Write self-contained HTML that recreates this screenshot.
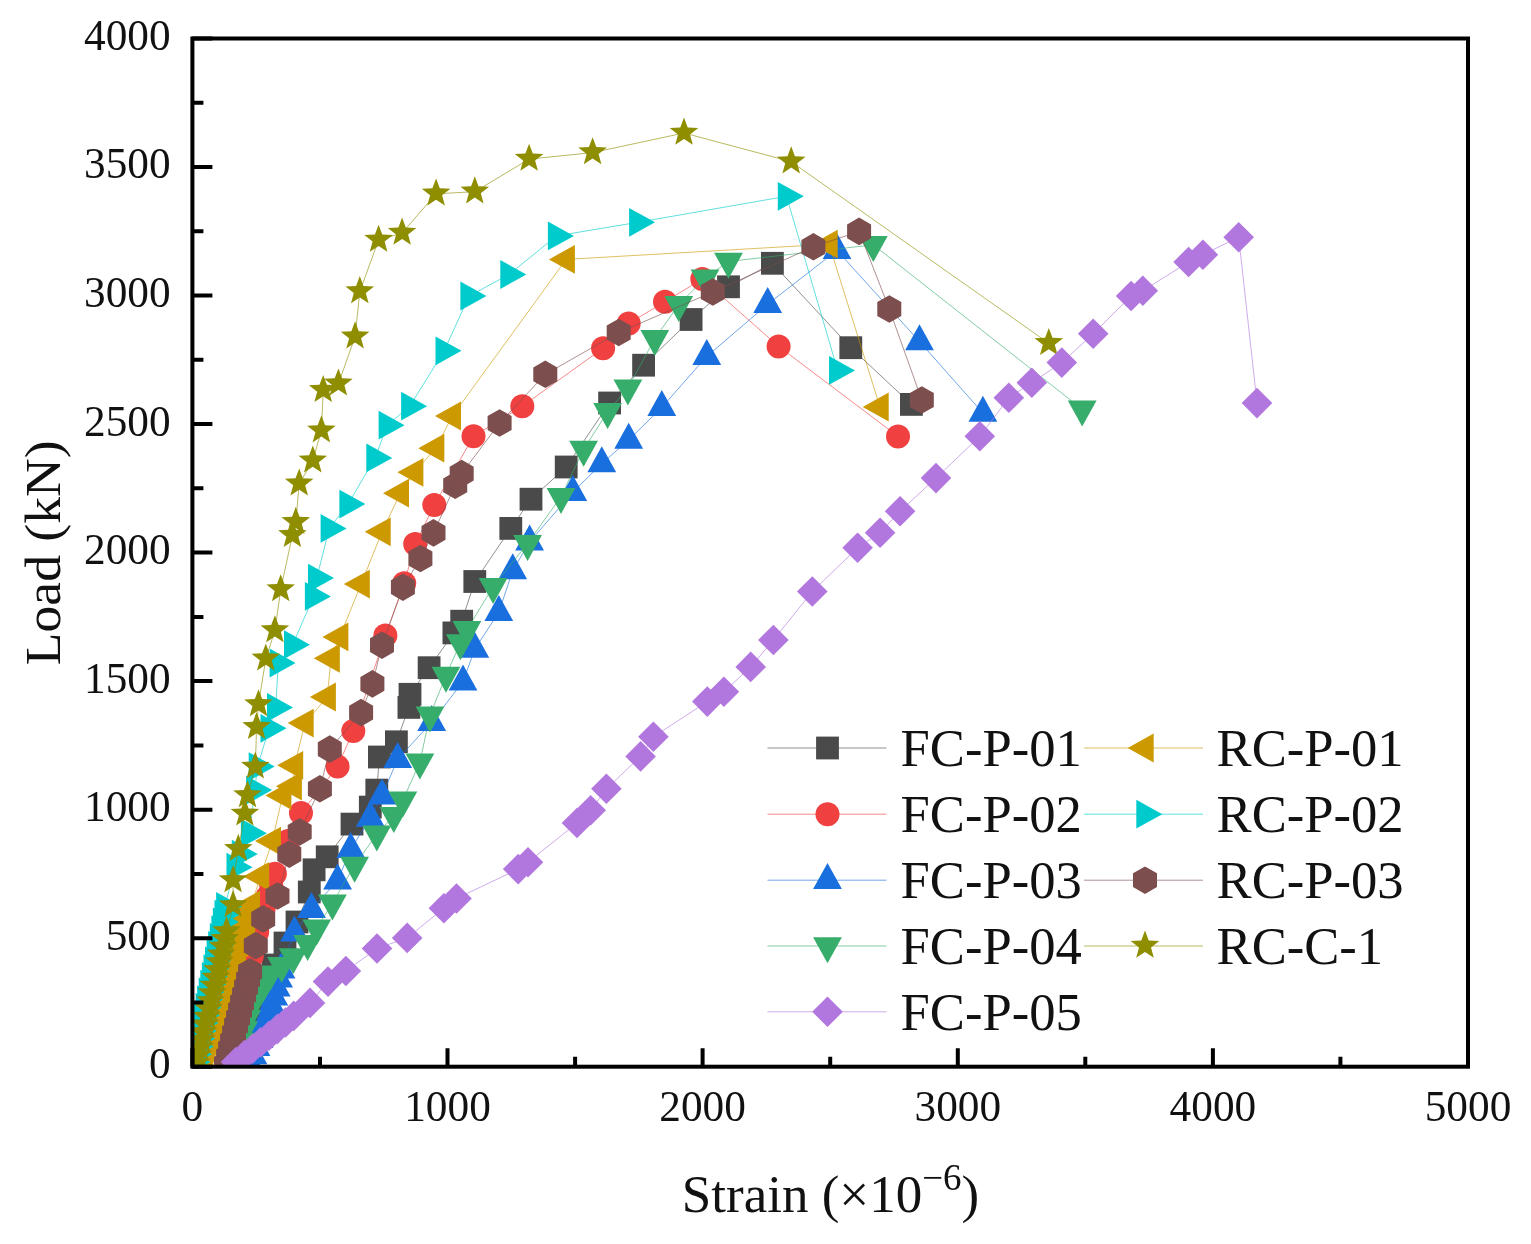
<!DOCTYPE html>
<html lang="en"><head><meta charset="utf-8"><title>Load-Strain curves</title>
<style>html,body{margin:0;padding:0;background:#fff}body{width:1531px;height:1244px;overflow:hidden}svg{display:block}</style>
</head><body>
<svg width="1531" height="1244" viewBox="0 0 1531 1244">
<rect width="1531" height="1244" fill="#fff"/>
<defs><filter id="soft" x="0" y="0" width="100%" height="100%" filterUnits="userSpaceOnUse" color-interpolation-filters="sRGB"><feGaussianBlur stdDeviation="0.55"/></filter></defs>
<g filter="url(#soft)">
<rect width="1531" height="1244" fill="#fff"/>
<defs><clipPath id="pc"><rect x="192.4" y="38.5" width="1275.6" height="1028.2"/></clipPath></defs>
<g clip-path="url(#pc)">
<g>
<polyline fill="none" stroke="#4a4a4a" stroke-opacity="0.62" stroke-width="1.0" points="243.0,1060.0 248.0,1038.0 254.0,1014.0 262.0,989.0 273.0,965.0 285.0,943.0 297.0,922.0 309.3,892.0 314.1,869.8 327.2,856.8 352.0,824.1 370.3,807.1 376.8,790.1 379.4,757.0 396.4,741.8 408.9,707.4 410.0,694.3 429.1,667.7 453.9,632.9 461.7,621.2 474.8,581.5 510.8,528.4 531.0,499.2 566.2,467.0 609.6,403.0 643.6,365.2 691.1,319.5 728.5,286.8 772.4,263.3 850.8,347.7 911.4,404.4"/>
<rect x="231.6" y="1048.6" width="22.8" height="22.8" fill="#4a4a4a"/>
<rect x="236.6" y="1026.6" width="22.8" height="22.8" fill="#4a4a4a"/>
<rect x="242.6" y="1002.6" width="22.8" height="22.8" fill="#4a4a4a"/>
<rect x="250.6" y="977.6" width="22.8" height="22.8" fill="#4a4a4a"/>
<rect x="261.6" y="953.6" width="22.8" height="22.8" fill="#4a4a4a"/>
<rect x="273.6" y="931.6" width="22.8" height="22.8" fill="#4a4a4a"/>
<rect x="285.6" y="910.6" width="22.8" height="22.8" fill="#4a4a4a"/>
<rect x="297.9" y="880.6" width="22.8" height="22.8" fill="#4a4a4a"/>
<rect x="302.7" y="858.4" width="22.8" height="22.8" fill="#4a4a4a"/>
<rect x="315.8" y="845.4" width="22.8" height="22.8" fill="#4a4a4a"/>
<rect x="340.6" y="812.7" width="22.8" height="22.8" fill="#4a4a4a"/>
<rect x="358.9" y="795.7" width="22.8" height="22.8" fill="#4a4a4a"/>
<rect x="365.4" y="778.7" width="22.8" height="22.8" fill="#4a4a4a"/>
<rect x="368.0" y="745.6" width="22.8" height="22.8" fill="#4a4a4a"/>
<rect x="385.0" y="730.4" width="22.8" height="22.8" fill="#4a4a4a"/>
<rect x="397.5" y="696.0" width="22.8" height="22.8" fill="#4a4a4a"/>
<rect x="398.6" y="682.9" width="22.8" height="22.8" fill="#4a4a4a"/>
<rect x="417.7" y="656.3" width="22.8" height="22.8" fill="#4a4a4a"/>
<rect x="442.5" y="621.5" width="22.8" height="22.8" fill="#4a4a4a"/>
<rect x="450.3" y="609.8" width="22.8" height="22.8" fill="#4a4a4a"/>
<rect x="463.4" y="570.1" width="22.8" height="22.8" fill="#4a4a4a"/>
<rect x="499.4" y="517.0" width="22.8" height="22.8" fill="#4a4a4a"/>
<rect x="519.6" y="487.8" width="22.8" height="22.8" fill="#4a4a4a"/>
<rect x="554.8" y="455.6" width="22.8" height="22.8" fill="#4a4a4a"/>
<rect x="598.2" y="391.6" width="22.8" height="22.8" fill="#4a4a4a"/>
<rect x="632.2" y="353.8" width="22.8" height="22.8" fill="#4a4a4a"/>
<rect x="679.7" y="308.1" width="22.8" height="22.8" fill="#4a4a4a"/>
<rect x="717.1" y="275.4" width="22.8" height="22.8" fill="#4a4a4a"/>
<rect x="761.0" y="251.9" width="22.8" height="22.8" fill="#4a4a4a"/>
<rect x="839.4" y="336.3" width="22.8" height="22.8" fill="#4a4a4a"/>
<rect x="900.0" y="393.0" width="22.8" height="22.8" fill="#4a4a4a"/>
</g>
<g>
<polyline fill="none" stroke="#F14040" stroke-opacity="0.62" stroke-width="1.0" points="227.0,1064.0 229.8,1052.0 232.5,1040.0 235.2,1028.0 238.0,1016.0 240.8,1004.0 243.5,992.0 246.2,980.0 249.0,968.0 251.8,956.0 254.5,944.0 257.2,932.0 260.0,920.0 263.7,908.4 267.4,896.9 271.2,885.3 274.9,873.7 288.0,841.0 301.0,812.9 337.6,766.6 353.3,730.9 385.4,635.5 404.2,583.3 415.2,544.1 434.3,504.9 473.5,436.2 522.3,406.2 603.1,348.2 628.7,323.4 665.0,301.7 702.3,279.0 778.6,346.4 898.0,436.4"/>
<circle cx="227.0" cy="1064.0" r="12" fill="#F14040"/>
<circle cx="229.8" cy="1052.0" r="12" fill="#F14040"/>
<circle cx="232.5" cy="1040.0" r="12" fill="#F14040"/>
<circle cx="235.2" cy="1028.0" r="12" fill="#F14040"/>
<circle cx="238.0" cy="1016.0" r="12" fill="#F14040"/>
<circle cx="240.8" cy="1004.0" r="12" fill="#F14040"/>
<circle cx="243.5" cy="992.0" r="12" fill="#F14040"/>
<circle cx="246.2" cy="980.0" r="12" fill="#F14040"/>
<circle cx="249.0" cy="968.0" r="12" fill="#F14040"/>
<circle cx="251.8" cy="956.0" r="12" fill="#F14040"/>
<circle cx="254.5" cy="944.0" r="12" fill="#F14040"/>
<circle cx="257.2" cy="932.0" r="12" fill="#F14040"/>
<circle cx="260.0" cy="920.0" r="12" fill="#F14040"/>
<circle cx="263.7" cy="908.4" r="12" fill="#F14040"/>
<circle cx="267.4" cy="896.9" r="12" fill="#F14040"/>
<circle cx="271.2" cy="885.3" r="12" fill="#F14040"/>
<circle cx="274.9" cy="873.7" r="12" fill="#F14040"/>
<circle cx="288.0" cy="841.0" r="12" fill="#F14040"/>
<circle cx="301.0" cy="812.9" r="12" fill="#F14040"/>
<circle cx="337.6" cy="766.6" r="12" fill="#F14040"/>
<circle cx="353.3" cy="730.9" r="12" fill="#F14040"/>
<circle cx="385.4" cy="635.5" r="12" fill="#F14040"/>
<circle cx="404.2" cy="583.3" r="12" fill="#F14040"/>
<circle cx="415.2" cy="544.1" r="12" fill="#F14040"/>
<circle cx="434.3" cy="504.9" r="12" fill="#F14040"/>
<circle cx="473.5" cy="436.2" r="12" fill="#F14040"/>
<circle cx="522.3" cy="406.2" r="12" fill="#F14040"/>
<circle cx="603.1" cy="348.2" r="12" fill="#F14040"/>
<circle cx="628.7" cy="323.4" r="12" fill="#F14040"/>
<circle cx="665.0" cy="301.7" r="12" fill="#F14040"/>
<circle cx="702.3" cy="279.0" r="12" fill="#F14040"/>
<circle cx="778.6" cy="346.4" r="12" fill="#F14040"/>
<circle cx="898.0" cy="436.4" r="12" fill="#F14040"/>
</g>
<g>
<polyline fill="none" stroke="#1A6FDF" stroke-opacity="0.62" stroke-width="1.0" points="247.0,1071.8 250.0,1063.7 253.0,1055.5 256.0,1047.4 259.0,1039.3 262.0,1031.1 265.0,1023.0 269.0,1014.8 271.4,1005.8 273.8,996.8 276.2,987.8 278.6,978.8 281.0,969.8 294.5,932.9 311.5,909.4 337.6,880.7 350.7,849.3 370.3,818.0 382.0,795.7 397.7,759.2 431.7,722.2 463.0,681.7 474.8,649.0 498.8,612.4 512.7,570.6 529.6,541.9 572.8,492.2 601.8,463.5 628.7,440.0 661.8,407.4 706.8,356.4 767.7,304.2 837.0,250.4 919.5,341.5 982.9,413.0"/>
<polygon points="247.0,1054.5 261.4,1080.5 232.6,1080.5" fill="#1A6FDF"/>
<polygon points="250.0,1046.4 264.4,1072.4 235.6,1072.4" fill="#1A6FDF"/>
<polygon points="253.0,1038.2 267.4,1064.2 238.6,1064.2" fill="#1A6FDF"/>
<polygon points="256.0,1030.1 270.4,1056.1 241.6,1056.1" fill="#1A6FDF"/>
<polygon points="259.0,1021.9 273.4,1047.9 244.6,1047.9" fill="#1A6FDF"/>
<polygon points="262.0,1013.8 276.4,1039.8 247.6,1039.8" fill="#1A6FDF"/>
<polygon points="265.0,1005.6 279.4,1031.6 250.6,1031.6" fill="#1A6FDF"/>
<polygon points="269.0,997.5 283.4,1023.5 254.6,1023.5" fill="#1A6FDF"/>
<polygon points="271.4,988.5 285.8,1014.5 257.0,1014.5" fill="#1A6FDF"/>
<polygon points="273.8,979.5 288.2,1005.5 259.4,1005.5" fill="#1A6FDF"/>
<polygon points="276.2,970.5 290.6,996.5 261.8,996.5" fill="#1A6FDF"/>
<polygon points="278.6,961.5 293.0,987.5 264.2,987.5" fill="#1A6FDF"/>
<polygon points="281.0,952.5 295.4,978.5 266.6,978.5" fill="#1A6FDF"/>
<polygon points="294.5,915.6 308.9,941.6 280.1,941.6" fill="#1A6FDF"/>
<polygon points="311.5,892.1 325.9,918.1 297.1,918.1" fill="#1A6FDF"/>
<polygon points="337.6,863.4 352.0,889.4 323.2,889.4" fill="#1A6FDF"/>
<polygon points="350.7,832.0 365.1,858.0 336.3,858.0" fill="#1A6FDF"/>
<polygon points="370.3,800.7 384.7,826.7 355.9,826.7" fill="#1A6FDF"/>
<polygon points="382.0,778.4 396.4,804.4 367.6,804.4" fill="#1A6FDF"/>
<polygon points="397.7,741.9 412.1,767.9 383.3,767.9" fill="#1A6FDF"/>
<polygon points="431.7,704.9 446.1,730.9 417.3,730.9" fill="#1A6FDF"/>
<polygon points="463.0,664.4 477.4,690.4 448.6,690.4" fill="#1A6FDF"/>
<polygon points="474.8,631.7 489.2,657.7 460.4,657.7" fill="#1A6FDF"/>
<polygon points="498.8,595.1 513.2,621.1 484.4,621.1" fill="#1A6FDF"/>
<polygon points="512.7,553.3 527.1,579.3 498.3,579.3" fill="#1A6FDF"/>
<polygon points="529.6,524.6 544.0,550.6 515.2,550.6" fill="#1A6FDF"/>
<polygon points="572.8,474.9 587.2,500.9 558.4,500.9" fill="#1A6FDF"/>
<polygon points="601.8,446.2 616.2,472.2 587.4,472.2" fill="#1A6FDF"/>
<polygon points="628.7,422.7 643.1,448.7 614.3,448.7" fill="#1A6FDF"/>
<polygon points="661.8,390.1 676.2,416.1 647.4,416.1" fill="#1A6FDF"/>
<polygon points="706.8,339.1 721.2,365.1 692.4,365.1" fill="#1A6FDF"/>
<polygon points="767.7,286.9 782.1,312.9 753.3,312.9" fill="#1A6FDF"/>
<polygon points="837.0,233.1 851.4,259.1 822.6,259.1" fill="#1A6FDF"/>
<polygon points="919.5,324.2 933.9,350.2 905.1,350.2" fill="#1A6FDF"/>
<polygon points="982.9,395.7 997.3,421.7 968.5,421.7" fill="#1A6FDF"/>
</g>
<g>
<polyline fill="none" stroke="#37AD6B" stroke-opacity="0.62" stroke-width="1.0" points="234.0,1064.2 237.2,1052.8 240.4,1041.4 243.6,1030.0 246.8,1018.6 250.0,1007.2 256.7,996.2 263.3,985.2 270.0,974.2 281.6,965.5 293.2,956.9 307.6,943.8 316.7,928.1 332.4,903.3 354.6,865.4 376.8,834.1 393.8,815.8 402.9,800.1 419.9,762.2 430.0,715.2 446.0,675.5 460.4,642.9 466.9,629.8 493.1,586.7 527.6,543.6 561.0,496.6 583.6,449.4 607.6,411.8 627.9,388.2 654.8,338.6 678.8,304.6 705.0,278.2 728.5,261.5 873.3,244.8 1082.2,409.2"/>
<polygon points="234.0,1081.5 248.4,1055.5 219.6,1055.5" fill="#37AD6B"/>
<polygon points="237.2,1070.1 251.6,1044.1 222.8,1044.1" fill="#37AD6B"/>
<polygon points="240.4,1058.7 254.8,1032.7 226.0,1032.7" fill="#37AD6B"/>
<polygon points="243.6,1047.3 258.0,1021.3 229.2,1021.3" fill="#37AD6B"/>
<polygon points="246.8,1035.9 261.2,1009.9 232.4,1009.9" fill="#37AD6B"/>
<polygon points="250.0,1024.5 264.4,998.5 235.6,998.5" fill="#37AD6B"/>
<polygon points="256.7,1013.5 271.1,987.5 242.3,987.5" fill="#37AD6B"/>
<polygon points="263.3,1002.5 277.7,976.5 248.9,976.5" fill="#37AD6B"/>
<polygon points="270.0,991.5 284.4,965.5 255.6,965.5" fill="#37AD6B"/>
<polygon points="281.6,982.9 296.0,956.9 267.2,956.9" fill="#37AD6B"/>
<polygon points="293.2,974.2 307.6,948.2 278.8,948.2" fill="#37AD6B"/>
<polygon points="307.6,961.1 322.0,935.1 293.2,935.1" fill="#37AD6B"/>
<polygon points="316.7,945.4 331.1,919.4 302.3,919.4" fill="#37AD6B"/>
<polygon points="332.4,920.6 346.8,894.6 318.0,894.6" fill="#37AD6B"/>
<polygon points="354.6,882.7 369.0,856.7 340.2,856.7" fill="#37AD6B"/>
<polygon points="376.8,851.4 391.2,825.4 362.4,825.4" fill="#37AD6B"/>
<polygon points="393.8,833.1 408.2,807.1 379.4,807.1" fill="#37AD6B"/>
<polygon points="402.9,817.4 417.3,791.4 388.5,791.4" fill="#37AD6B"/>
<polygon points="419.9,779.5 434.3,753.5 405.5,753.5" fill="#37AD6B"/>
<polygon points="430.0,732.5 444.4,706.5 415.6,706.5" fill="#37AD6B"/>
<polygon points="446.0,692.8 460.4,666.8 431.6,666.8" fill="#37AD6B"/>
<polygon points="460.4,660.2 474.8,634.2 446.0,634.2" fill="#37AD6B"/>
<polygon points="466.9,647.1 481.3,621.1 452.5,621.1" fill="#37AD6B"/>
<polygon points="493.1,604.0 507.5,578.0 478.7,578.0" fill="#37AD6B"/>
<polygon points="527.6,560.9 542.0,534.9 513.2,534.9" fill="#37AD6B"/>
<polygon points="561.0,513.9 575.4,487.9 546.6,487.9" fill="#37AD6B"/>
<polygon points="583.6,466.7 598.0,440.7 569.2,440.7" fill="#37AD6B"/>
<polygon points="607.6,429.1 622.0,403.1 593.2,403.1" fill="#37AD6B"/>
<polygon points="627.9,405.5 642.3,379.5 613.5,379.5" fill="#37AD6B"/>
<polygon points="654.8,355.9 669.2,329.9 640.4,329.9" fill="#37AD6B"/>
<polygon points="678.8,321.9 693.2,295.9 664.4,295.9" fill="#37AD6B"/>
<polygon points="705.0,295.5 719.4,269.5 690.6,269.5" fill="#37AD6B"/>
<polygon points="728.5,278.8 742.9,252.8 714.1,252.8" fill="#37AD6B"/>
<polygon points="873.3,262.1 887.7,236.1 858.9,236.1" fill="#37AD6B"/>
<polygon points="1082.2,426.5 1096.6,400.5 1067.8,400.5" fill="#37AD6B"/>
</g>
<g>
<polyline fill="none" stroke="#CC9900" stroke-opacity="0.62" stroke-width="1.0" points="202.3,1064.0 204.7,1056.4 207.0,1048.9 209.3,1041.3 211.7,1033.7 214.0,1026.1 216.3,1018.6 218.7,1011.0 221.0,1003.4 223.3,995.9 225.7,988.3 228.0,980.7 230.3,973.1 232.7,965.6 235.0,958.0 237.3,950.4 239.7,942.9 242.0,935.3 244.3,927.7 246.7,920.1 249.0,912.6 251.3,905.0 260.5,876.4 272.3,841.1 282.7,795.4 293.2,786.2 294.5,765.3 305.0,723.1 327.2,697.0 331.1,658.3 339.7,636.9 361.1,584.1 382.0,531.8 400.3,493.2 414.7,472.3 435.6,448.2 452.3,416.0 566.2,259.4 829.0,244.2 880.0,407.0"/>
<polygon points="185.0,1064.0 211.0,1049.6 211.0,1078.4" fill="#CC9900"/>
<polygon points="187.3,1056.4 213.3,1042.0 213.3,1070.8" fill="#CC9900"/>
<polygon points="189.7,1048.9 215.7,1034.5 215.7,1063.3" fill="#CC9900"/>
<polygon points="192.0,1041.3 218.0,1026.9 218.0,1055.7" fill="#CC9900"/>
<polygon points="194.3,1033.7 220.3,1019.3 220.3,1048.1" fill="#CC9900"/>
<polygon points="196.7,1026.1 222.7,1011.7 222.7,1040.5" fill="#CC9900"/>
<polygon points="199.0,1018.6 225.0,1004.2 225.0,1033.0" fill="#CC9900"/>
<polygon points="201.3,1011.0 227.3,996.6 227.3,1025.4" fill="#CC9900"/>
<polygon points="203.7,1003.4 229.7,989.0 229.7,1017.8" fill="#CC9900"/>
<polygon points="206.0,995.9 232.0,981.5 232.0,1010.3" fill="#CC9900"/>
<polygon points="208.3,988.3 234.3,973.9 234.3,1002.7" fill="#CC9900"/>
<polygon points="210.7,980.7 236.7,966.3 236.7,995.1" fill="#CC9900"/>
<polygon points="213.0,973.1 239.0,958.7 239.0,987.5" fill="#CC9900"/>
<polygon points="215.3,965.6 241.3,951.2 241.3,980.0" fill="#CC9900"/>
<polygon points="217.7,958.0 243.7,943.6 243.7,972.4" fill="#CC9900"/>
<polygon points="220.0,950.4 246.0,936.0 246.0,964.8" fill="#CC9900"/>
<polygon points="222.3,942.9 248.3,928.5 248.3,957.3" fill="#CC9900"/>
<polygon points="224.7,935.3 250.7,920.9 250.7,949.7" fill="#CC9900"/>
<polygon points="227.0,927.7 253.0,913.3 253.0,942.1" fill="#CC9900"/>
<polygon points="229.3,920.1 255.3,905.7 255.3,934.5" fill="#CC9900"/>
<polygon points="231.7,912.6 257.7,898.2 257.7,927.0" fill="#CC9900"/>
<polygon points="234.0,905.0 260.0,890.6 260.0,919.4" fill="#CC9900"/>
<polygon points="243.2,876.4 269.2,862.0 269.2,890.8" fill="#CC9900"/>
<polygon points="255.0,841.1 281.0,826.7 281.0,855.5" fill="#CC9900"/>
<polygon points="265.4,795.4 291.4,781.0 291.4,809.8" fill="#CC9900"/>
<polygon points="275.9,786.2 301.9,771.8 301.9,800.6" fill="#CC9900"/>
<polygon points="277.2,765.3 303.2,750.9 303.2,779.7" fill="#CC9900"/>
<polygon points="287.7,723.1 313.7,708.7 313.7,737.5" fill="#CC9900"/>
<polygon points="309.9,697.0 335.9,682.6 335.9,711.4" fill="#CC9900"/>
<polygon points="313.8,658.3 339.8,643.9 339.8,672.7" fill="#CC9900"/>
<polygon points="322.4,636.9 348.4,622.5 348.4,651.3" fill="#CC9900"/>
<polygon points="343.8,584.1 369.8,569.7 369.8,598.5" fill="#CC9900"/>
<polygon points="364.7,531.8 390.7,517.4 390.7,546.2" fill="#CC9900"/>
<polygon points="383.0,493.2 409.0,478.8 409.0,507.6" fill="#CC9900"/>
<polygon points="397.4,472.3 423.4,457.9 423.4,486.7" fill="#CC9900"/>
<polygon points="418.3,448.2 444.3,433.8 444.3,462.6" fill="#CC9900"/>
<polygon points="435.0,416.0 461.0,401.6 461.0,430.4" fill="#CC9900"/>
<polygon points="548.9,259.4 574.9,245.0 574.9,273.8" fill="#CC9900"/>
<polygon points="811.7,244.2 837.7,229.8 837.7,258.6" fill="#CC9900"/>
<polygon points="862.7,407.0 888.7,392.6 888.7,421.4" fill="#CC9900"/>
</g>
<g>
<polyline fill="none" stroke="#00CBCC" stroke-opacity="0.62" stroke-width="1.0" points="193.2,1062.0 194.7,1054.2 196.3,1046.4 197.9,1038.7 199.5,1030.9 201.1,1023.1 202.6,1015.3 204.2,1007.5 205.8,999.8 207.4,992.0 209.0,984.2 210.5,976.4 212.1,968.6 213.7,960.9 215.3,953.1 216.9,945.3 218.4,937.5 220.0,929.7 221.6,922.0 223.2,914.2 224.8,906.4 235.2,867.2 240.5,854.1 249.6,833.2 254.8,790.1 257.4,766.6 269.2,728.3 275.7,707.4 278.3,663.0 292.7,644.7 313.6,596.4 316.7,578.1 329.3,528.4 348.1,504.1 375.0,457.9 387.3,425.2 409.8,406.2 444.2,350.8 469.1,296.0 509.0,274.5 556.6,235.9 637.8,222.3 786.5,196.3 837.7,370.4"/>
<polygon points="210.5,1062.0 184.5,1047.6 184.5,1076.4" fill="#00CBCC"/>
<polygon points="212.1,1054.2 186.1,1039.8 186.1,1068.6" fill="#00CBCC"/>
<polygon points="213.7,1046.4 187.7,1032.0 187.7,1060.8" fill="#00CBCC"/>
<polygon points="215.2,1038.7 189.2,1024.3 189.2,1053.1" fill="#00CBCC"/>
<polygon points="216.8,1030.9 190.8,1016.5 190.8,1045.3" fill="#00CBCC"/>
<polygon points="218.4,1023.1 192.4,1008.7 192.4,1037.5" fill="#00CBCC"/>
<polygon points="220.0,1015.3 194.0,1000.9 194.0,1029.7" fill="#00CBCC"/>
<polygon points="221.6,1007.5 195.6,993.1 195.6,1021.9" fill="#00CBCC"/>
<polygon points="223.1,999.8 197.1,985.4 197.1,1014.2" fill="#00CBCC"/>
<polygon points="224.7,992.0 198.7,977.6 198.7,1006.4" fill="#00CBCC"/>
<polygon points="226.3,984.2 200.3,969.8 200.3,998.6" fill="#00CBCC"/>
<polygon points="227.9,976.4 201.9,962.0 201.9,990.8" fill="#00CBCC"/>
<polygon points="229.5,968.6 203.5,954.2 203.5,983.0" fill="#00CBCC"/>
<polygon points="231.0,960.9 205.0,946.5 205.0,975.3" fill="#00CBCC"/>
<polygon points="232.6,953.1 206.6,938.7 206.6,967.5" fill="#00CBCC"/>
<polygon points="234.2,945.3 208.2,930.9 208.2,959.7" fill="#00CBCC"/>
<polygon points="235.8,937.5 209.8,923.1 209.8,951.9" fill="#00CBCC"/>
<polygon points="237.4,929.7 211.4,915.3 211.4,944.1" fill="#00CBCC"/>
<polygon points="238.9,922.0 212.9,907.6 212.9,936.4" fill="#00CBCC"/>
<polygon points="240.5,914.2 214.5,899.8 214.5,928.6" fill="#00CBCC"/>
<polygon points="242.1,906.4 216.1,892.0 216.1,920.8" fill="#00CBCC"/>
<polygon points="252.5,867.2 226.5,852.8 226.5,881.6" fill="#00CBCC"/>
<polygon points="257.8,854.1 231.8,839.7 231.8,868.5" fill="#00CBCC"/>
<polygon points="266.9,833.2 240.9,818.8 240.9,847.6" fill="#00CBCC"/>
<polygon points="272.1,790.1 246.1,775.7 246.1,804.5" fill="#00CBCC"/>
<polygon points="274.7,766.6 248.7,752.2 248.7,781.0" fill="#00CBCC"/>
<polygon points="286.5,728.3 260.5,713.9 260.5,742.7" fill="#00CBCC"/>
<polygon points="293.0,707.4 267.0,693.0 267.0,721.8" fill="#00CBCC"/>
<polygon points="295.6,663.0 269.6,648.6 269.6,677.4" fill="#00CBCC"/>
<polygon points="310.0,644.7 284.0,630.3 284.0,659.1" fill="#00CBCC"/>
<polygon points="330.9,596.4 304.9,582.0 304.9,610.8" fill="#00CBCC"/>
<polygon points="334.0,578.1 308.0,563.7 308.0,592.5" fill="#00CBCC"/>
<polygon points="346.6,528.4 320.6,514.0 320.6,542.8" fill="#00CBCC"/>
<polygon points="365.4,504.1 339.4,489.7 339.4,518.5" fill="#00CBCC"/>
<polygon points="392.3,457.9 366.3,443.5 366.3,472.3" fill="#00CBCC"/>
<polygon points="404.6,425.2 378.6,410.8 378.6,439.6" fill="#00CBCC"/>
<polygon points="427.1,406.2 401.1,391.8 401.1,420.6" fill="#00CBCC"/>
<polygon points="461.5,350.8 435.5,336.4 435.5,365.2" fill="#00CBCC"/>
<polygon points="486.4,296.0 460.4,281.6 460.4,310.4" fill="#00CBCC"/>
<polygon points="526.3,274.5 500.3,260.1 500.3,288.9" fill="#00CBCC"/>
<polygon points="573.9,235.9 547.9,221.5 547.9,250.3" fill="#00CBCC"/>
<polygon points="655.1,222.3 629.1,207.9 629.1,236.7" fill="#00CBCC"/>
<polygon points="803.8,196.3 777.8,181.9 777.8,210.7" fill="#00CBCC"/>
<polygon points="855.0,370.4 829.0,356.0 829.0,384.8" fill="#00CBCC"/>
</g>
<g>
<polyline fill="none" stroke="#7D4E4E" stroke-opacity="0.62" stroke-width="1.0" points="226.0,1064.0 228.0,1056.3 230.0,1048.6 232.0,1040.9 234.0,1033.2 236.0,1025.5 238.1,1017.9 240.1,1010.2 242.1,1002.5 244.1,994.8 246.1,987.1 248.1,979.4 250.1,971.7 255.8,945.6 263.2,918.9 277.5,896.0 289.3,854.1 299.7,831.9 319.9,788.8 329.8,749.1 361.1,712.6 372.4,683.9 382.0,645.2 402.9,587.2 420.4,558.5 433.5,532.9 455.2,485.3 461.7,473.6 499.6,423.0 545.3,374.3 618.7,332.5 712.8,292.0 813.4,246.8 859.1,231.4 889.3,309.0 921.8,400.0"/>
<polygon points="226.0,1050.2 238.0,1057.1 238.0,1070.9 226.0,1077.8 214.0,1070.9 214.0,1057.1" fill="#7D4E4E"/>
<polygon points="228.0,1042.5 240.0,1049.4 240.0,1063.2 228.0,1070.1 216.1,1063.2 216.1,1049.4" fill="#7D4E4E"/>
<polygon points="230.0,1034.8 242.0,1041.7 242.0,1055.5 230.0,1062.4 218.1,1055.5 218.1,1041.7" fill="#7D4E4E"/>
<polygon points="232.0,1027.1 244.0,1034.0 244.0,1047.8 232.0,1054.7 220.1,1047.8 220.1,1034.0" fill="#7D4E4E"/>
<polygon points="234.0,1019.4 246.0,1026.3 246.0,1040.1 234.0,1047.0 222.1,1040.1 222.1,1026.3" fill="#7D4E4E"/>
<polygon points="236.0,1011.7 248.0,1018.6 248.0,1032.4 236.0,1039.3 224.1,1032.4 224.1,1018.6" fill="#7D4E4E"/>
<polygon points="238.1,1004.1 250.0,1011.0 250.0,1024.8 238.1,1031.7 226.1,1024.8 226.1,1011.0" fill="#7D4E4E"/>
<polygon points="240.1,996.4 252.0,1003.3 252.0,1017.1 240.1,1024.0 228.1,1017.1 228.1,1003.3" fill="#7D4E4E"/>
<polygon points="242.1,988.7 254.0,995.6 254.0,1009.4 242.1,1016.3 230.1,1009.4 230.1,995.6" fill="#7D4E4E"/>
<polygon points="244.1,981.0 256.0,987.9 256.0,1001.7 244.1,1008.6 232.1,1001.7 232.1,987.9" fill="#7D4E4E"/>
<polygon points="246.1,973.3 258.0,980.2 258.0,994.0 246.1,1000.9 234.1,994.0 234.1,980.2" fill="#7D4E4E"/>
<polygon points="248.1,965.6 260.0,972.5 260.0,986.3 248.1,993.2 236.1,986.3 236.1,972.5" fill="#7D4E4E"/>
<polygon points="250.1,957.9 262.1,964.8 262.1,978.6 250.1,985.5 238.1,978.6 238.1,964.8" fill="#7D4E4E"/>
<polygon points="255.8,931.8 267.8,938.7 267.8,952.5 255.8,959.4 243.8,952.5 243.8,938.7" fill="#7D4E4E"/>
<polygon points="263.2,905.1 275.2,912.0 275.2,925.8 263.2,932.7 251.2,925.8 251.2,912.0" fill="#7D4E4E"/>
<polygon points="277.5,882.2 289.5,889.1 289.5,902.9 277.5,909.8 265.5,902.9 265.5,889.1" fill="#7D4E4E"/>
<polygon points="289.3,840.3 301.3,847.2 301.3,861.0 289.3,867.9 277.3,861.0 277.3,847.2" fill="#7D4E4E"/>
<polygon points="299.7,818.1 311.7,825.0 311.7,838.8 299.7,845.7 287.7,838.8 287.7,825.0" fill="#7D4E4E"/>
<polygon points="319.9,775.0 331.9,781.9 331.9,795.7 319.9,802.6 307.9,795.7 307.9,781.9" fill="#7D4E4E"/>
<polygon points="329.8,735.3 341.8,742.2 341.8,756.0 329.8,762.9 317.8,756.0 317.8,742.2" fill="#7D4E4E"/>
<polygon points="361.1,698.8 373.1,705.7 373.1,719.5 361.1,726.4 349.1,719.5 349.1,705.7" fill="#7D4E4E"/>
<polygon points="372.4,670.1 384.4,677.0 384.4,690.8 372.4,697.7 360.4,690.8 360.4,677.0" fill="#7D4E4E"/>
<polygon points="382.0,631.4 394.0,638.3 394.0,652.1 382.0,659.0 370.0,652.1 370.0,638.3" fill="#7D4E4E"/>
<polygon points="402.9,573.4 414.9,580.3 414.9,594.1 402.9,601.0 390.9,594.1 390.9,580.3" fill="#7D4E4E"/>
<polygon points="420.4,544.7 432.4,551.6 432.4,565.4 420.4,572.3 408.4,565.4 408.4,551.6" fill="#7D4E4E"/>
<polygon points="433.5,519.1 445.5,526.0 445.5,539.8 433.5,546.7 421.5,539.8 421.5,526.0" fill="#7D4E4E"/>
<polygon points="455.2,471.5 467.2,478.4 467.2,492.2 455.2,499.1 443.2,492.2 443.2,478.4" fill="#7D4E4E"/>
<polygon points="461.7,459.8 473.7,466.7 473.7,480.5 461.7,487.4 449.7,480.5 449.7,466.7" fill="#7D4E4E"/>
<polygon points="499.6,409.2 511.6,416.1 511.6,429.9 499.6,436.8 487.6,429.9 487.6,416.1" fill="#7D4E4E"/>
<polygon points="545.3,360.5 557.3,367.4 557.3,381.2 545.3,388.1 533.3,381.2 533.3,367.4" fill="#7D4E4E"/>
<polygon points="618.7,318.7 630.7,325.6 630.7,339.4 618.7,346.3 606.7,339.4 606.7,325.6" fill="#7D4E4E"/>
<polygon points="712.8,278.2 724.8,285.1 724.8,298.9 712.8,305.8 700.8,298.9 700.8,285.1" fill="#7D4E4E"/>
<polygon points="813.4,233.0 825.4,239.9 825.4,253.7 813.4,260.6 801.4,253.7 801.4,239.9" fill="#7D4E4E"/>
<polygon points="859.1,217.6 871.1,224.5 871.1,238.3 859.1,245.2 847.1,238.3 847.1,224.5" fill="#7D4E4E"/>
<polygon points="889.3,295.2 901.3,302.1 901.3,315.9 889.3,322.8 877.3,315.9 877.3,302.1" fill="#7D4E4E"/>
<polygon points="921.8,386.2 933.8,393.1 933.8,406.9 921.8,413.8 909.8,406.9 909.8,393.1" fill="#7D4E4E"/>
</g>
<g>
<polyline fill="none" stroke="#8E8E00" stroke-opacity="0.62" stroke-width="1.0" points="196.0,1063.6 197.8,1055.8 199.6,1048.1 201.4,1040.3 203.2,1032.5 205.0,1024.7 206.8,1017.0 208.6,1009.2 210.4,1001.4 212.2,993.7 214.0,985.9 215.8,978.1 217.6,970.4 219.4,962.6 221.2,954.8 223.0,947.0 224.8,939.3 226.6,931.5 233.1,905.4 233.1,880.6 238.3,849.2 244.9,813.9 247.5,795.6 255.3,766.9 256.6,727.3 258.5,704.6 265.8,658.8 274.9,630.6 280.7,589.6 292.4,535.3 295.8,522.2 299.2,483.8 312.8,460.8 321.4,430.7 323.2,390.3 338.4,383.8 355.1,336.7 359.8,291.5 378.6,240.1 402.1,233.0 436.1,193.8 474.8,191.7 529.1,159.1 592.6,152.6 684.0,133.0 791.2,161.7 1048.8,343.3"/>
<polygon points="196.0,1048.2 199.7,1058.1 210.3,1058.6 202.0,1065.1 204.8,1075.3 196.0,1069.5 187.2,1075.3 190.0,1065.1 181.7,1058.6 192.3,1058.1" fill="#8E8E00"/>
<polygon points="197.8,1040.4 201.5,1050.3 212.1,1050.8 203.8,1057.4 206.6,1067.6 197.8,1061.7 189.0,1067.6 191.8,1057.4 183.5,1050.8 194.1,1050.3" fill="#8E8E00"/>
<polygon points="199.6,1032.7 203.3,1042.6 213.9,1043.0 205.6,1049.6 208.4,1059.8 199.6,1054.0 190.8,1059.8 193.6,1049.6 185.3,1043.0 195.9,1042.6" fill="#8E8E00"/>
<polygon points="201.4,1024.9 205.1,1034.8 215.7,1035.3 207.4,1041.8 210.2,1052.0 201.4,1046.2 192.6,1052.0 195.4,1041.8 187.1,1035.3 197.7,1034.8" fill="#8E8E00"/>
<polygon points="203.2,1017.1 206.9,1027.0 217.5,1027.5 209.2,1034.1 212.0,1044.3 203.2,1038.4 194.4,1044.3 197.2,1034.1 188.9,1027.5 199.5,1027.0" fill="#8E8E00"/>
<polygon points="205.0,1009.3 208.7,1019.3 219.3,1019.7 211.0,1026.3 213.8,1036.5 205.0,1030.6 196.2,1036.5 199.0,1026.3 190.7,1019.7 201.3,1019.3" fill="#8E8E00"/>
<polygon points="206.8,1001.6 210.5,1011.5 221.1,1011.9 212.8,1018.5 215.6,1028.7 206.8,1022.9 198.0,1028.7 200.8,1018.5 192.5,1011.9 203.1,1011.5" fill="#8E8E00"/>
<polygon points="208.6,993.8 212.3,1003.7 222.9,1004.2 214.6,1010.8 217.4,1020.9 208.6,1015.1 199.8,1020.9 202.6,1010.8 194.3,1004.2 204.9,1003.7" fill="#8E8E00"/>
<polygon points="210.4,986.0 214.1,995.9 224.7,996.4 216.4,1003.0 219.2,1013.2 210.4,1007.3 201.6,1013.2 204.4,1003.0 196.1,996.4 206.7,995.9" fill="#8E8E00"/>
<polygon points="212.2,978.3 215.9,988.2 226.5,988.6 218.2,995.2 221.0,1005.4 212.2,999.6 203.4,1005.4 206.2,995.2 197.9,988.6 208.5,988.2" fill="#8E8E00"/>
<polygon points="214.0,970.5 217.7,980.4 228.3,980.9 220.0,987.4 222.8,997.6 214.0,991.8 205.2,997.6 208.0,987.4 199.7,980.9 210.3,980.4" fill="#8E8E00"/>
<polygon points="215.8,962.7 219.5,972.6 230.1,973.1 221.8,979.7 224.6,989.9 215.8,984.0 207.0,989.9 209.8,979.7 201.5,973.1 212.1,972.6" fill="#8E8E00"/>
<polygon points="217.6,955.0 221.3,964.9 231.9,965.3 223.6,971.9 226.4,982.1 217.6,976.3 208.8,982.1 211.6,971.9 203.3,965.3 213.9,964.9" fill="#8E8E00"/>
<polygon points="219.4,947.2 223.1,957.1 233.7,957.5 225.4,964.1 228.2,974.3 219.4,968.5 210.6,974.3 213.4,964.1 205.1,957.5 215.7,957.1" fill="#8E8E00"/>
<polygon points="221.2,939.4 224.9,949.3 235.5,949.8 227.2,956.4 230.0,966.5 221.2,960.7 212.4,966.5 215.2,956.4 206.9,949.8 217.5,949.3" fill="#8E8E00"/>
<polygon points="223.0,931.6 226.7,941.5 237.3,942.0 229.0,948.6 231.8,958.8 223.0,952.9 214.2,958.8 217.0,948.6 208.7,942.0 219.3,941.5" fill="#8E8E00"/>
<polygon points="224.8,923.9 228.5,933.8 239.1,934.2 230.8,940.8 233.6,951.0 224.8,945.2 216.0,951.0 218.8,940.8 210.5,934.2 221.1,933.8" fill="#8E8E00"/>
<polygon points="226.6,916.1 230.3,926.0 240.9,926.5 232.6,933.0 235.4,943.2 226.6,937.4 217.8,943.2 220.6,933.0 212.3,926.5 222.9,926.0" fill="#8E8E00"/>
<polygon points="233.1,890.0 236.8,899.9 247.4,900.4 239.1,906.9 241.9,917.1 233.1,911.3 224.3,917.1 227.1,906.9 218.8,900.4 229.4,899.9" fill="#8E8E00"/>
<polygon points="233.1,865.2 236.8,875.1 247.4,875.6 239.1,882.1 241.9,892.3 233.1,886.5 224.3,892.3 227.1,882.1 218.8,875.6 229.4,875.1" fill="#8E8E00"/>
<polygon points="238.3,833.8 242.0,843.7 252.6,844.2 244.3,850.7 247.1,860.9 238.3,855.1 229.5,860.9 232.3,850.7 224.0,844.2 234.6,843.7" fill="#8E8E00"/>
<polygon points="244.9,798.5 248.6,808.4 259.2,808.9 250.9,815.4 253.7,825.6 244.9,819.8 236.1,825.6 238.9,815.4 230.6,808.9 241.2,808.4" fill="#8E8E00"/>
<polygon points="247.5,780.2 251.2,790.1 261.8,790.6 253.5,797.1 256.3,807.3 247.5,801.5 238.7,807.3 241.5,797.1 233.2,790.6 243.8,790.1" fill="#8E8E00"/>
<polygon points="255.3,751.5 259.0,761.4 269.6,761.9 261.3,768.4 264.1,778.6 255.3,772.8 246.5,778.6 249.3,768.4 241.0,761.9 251.6,761.4" fill="#8E8E00"/>
<polygon points="256.6,711.9 260.3,721.8 270.9,722.3 262.6,728.8 265.4,739.0 256.6,733.2 247.8,739.0 250.6,728.8 242.3,722.3 252.9,721.8" fill="#8E8E00"/>
<polygon points="258.5,689.2 262.2,699.1 272.8,699.6 264.5,706.1 267.3,716.3 258.5,710.5 249.7,716.3 252.5,706.1 244.2,699.6 254.8,699.1" fill="#8E8E00"/>
<polygon points="265.8,643.4 269.5,653.3 280.1,653.8 271.8,660.3 274.6,670.5 265.8,664.7 257.0,670.5 259.8,660.3 251.5,653.8 262.1,653.3" fill="#8E8E00"/>
<polygon points="274.9,615.2 278.6,625.1 289.2,625.6 280.9,632.1 283.7,642.3 274.9,636.5 266.1,642.3 268.9,632.1 260.6,625.6 271.2,625.1" fill="#8E8E00"/>
<polygon points="280.7,574.2 284.4,584.1 295.0,584.6 286.7,591.1 289.5,601.3 280.7,595.5 271.9,601.3 274.7,591.1 266.4,584.6 277.0,584.1" fill="#8E8E00"/>
<polygon points="292.4,519.9 296.1,529.8 306.7,530.3 298.4,536.8 301.2,547.0 292.4,541.2 283.6,547.0 286.4,536.8 278.1,530.3 288.7,529.8" fill="#8E8E00"/>
<polygon points="295.8,506.8 299.5,516.7 310.1,517.2 301.8,523.7 304.6,533.9 295.8,528.1 287.0,533.9 289.8,523.7 281.5,517.2 292.1,516.7" fill="#8E8E00"/>
<polygon points="299.2,468.4 302.9,478.3 313.5,478.8 305.2,485.3 308.0,495.5 299.2,489.7 290.4,495.5 293.2,485.3 284.9,478.8 295.5,478.3" fill="#8E8E00"/>
<polygon points="312.8,445.4 316.5,455.3 327.1,455.8 318.8,462.3 321.6,472.5 312.8,466.7 304.0,472.5 306.8,462.3 298.5,455.8 309.1,455.3" fill="#8E8E00"/>
<polygon points="321.4,415.3 325.1,425.2 335.7,425.7 327.4,432.2 330.2,442.4 321.4,436.6 312.6,442.4 315.4,432.2 307.1,425.7 317.7,425.2" fill="#8E8E00"/>
<polygon points="323.2,374.9 326.9,384.8 337.5,385.3 329.2,391.8 332.0,402.0 323.2,396.2 314.4,402.0 317.2,391.8 308.9,385.3 319.5,384.8" fill="#8E8E00"/>
<polygon points="338.4,368.4 342.1,378.3 352.7,378.8 344.4,385.3 347.2,395.5 338.4,389.7 329.6,395.5 332.4,385.3 324.1,378.8 334.7,378.3" fill="#8E8E00"/>
<polygon points="355.1,321.3 358.8,331.2 369.4,331.7 361.1,338.2 363.9,348.4 355.1,342.6 346.3,348.4 349.1,338.2 340.8,331.7 351.4,331.2" fill="#8E8E00"/>
<polygon points="359.8,276.1 363.5,286.0 374.1,286.5 365.8,293.0 368.6,303.2 359.8,297.4 351.0,303.2 353.8,293.0 345.5,286.5 356.1,286.0" fill="#8E8E00"/>
<polygon points="378.6,224.7 382.3,234.6 392.9,235.1 384.6,241.6 387.4,251.8 378.6,246.0 369.8,251.8 372.6,241.6 364.3,235.1 374.9,234.6" fill="#8E8E00"/>
<polygon points="402.1,217.6 405.8,227.5 416.4,228.0 408.1,234.5 410.9,244.7 402.1,238.9 393.3,244.7 396.1,234.5 387.8,228.0 398.4,227.5" fill="#8E8E00"/>
<polygon points="436.1,178.4 439.8,188.3 450.4,188.8 442.1,195.3 444.9,205.5 436.1,199.7 427.3,205.5 430.1,195.3 421.8,188.8 432.4,188.3" fill="#8E8E00"/>
<polygon points="474.8,176.3 478.5,186.2 489.1,186.7 480.8,193.2 483.6,203.4 474.8,197.6 466.0,203.4 468.8,193.2 460.5,186.7 471.1,186.2" fill="#8E8E00"/>
<polygon points="529.1,143.7 532.8,153.6 543.4,154.1 535.1,160.6 537.9,170.8 529.1,165.0 520.3,170.8 523.1,160.6 514.8,154.1 525.4,153.6" fill="#8E8E00"/>
<polygon points="592.6,137.2 596.3,147.1 606.9,147.6 598.6,154.1 601.4,164.3 592.6,158.5 583.8,164.3 586.6,154.1 578.3,147.6 588.9,147.1" fill="#8E8E00"/>
<polygon points="684.0,117.6 687.7,127.5 698.3,128.0 690.0,134.5 692.8,144.7 684.0,138.9 675.2,144.7 678.0,134.5 669.7,128.0 680.3,127.5" fill="#8E8E00"/>
<polygon points="791.2,146.3 794.9,156.2 805.5,156.7 797.2,163.2 800.0,173.4 791.2,167.6 782.4,173.4 785.2,163.2 776.9,156.7 787.5,156.2" fill="#8E8E00"/>
<polygon points="1048.8,327.9 1052.5,337.8 1063.1,338.3 1054.8,344.8 1057.6,355.0 1048.8,349.2 1040.0,355.0 1042.8,344.8 1034.5,338.3 1045.1,337.8" fill="#8E8E00"/>
</g>
<g>
<polyline fill="none" stroke="#B177DE" stroke-opacity="0.62" stroke-width="1.0" points="236.0,1062.0 244.2,1055.4 252.5,1048.8 260.7,1042.2 269.0,1035.7 277.2,1029.1 285.5,1022.5 293.7,1015.9 310.0,1002.9 328.0,981.6 345.9,971.0 377.0,948.5 407.2,937.9 443.9,908.2 456.5,898.5 518.2,869.1 528.0,862.2 577.0,823.0 590.7,810.3 606.4,788.8 640.6,756.4 653.4,736.8 707.3,701.6 723.9,691.8 750.7,666.9 773.4,640.0 812.3,591.5 857.6,547.8 880.1,532.7 900.1,511.2 936.0,478.1 979.8,436.3 1008.8,397.8 1031.8,382.7 1061.8,362.6 1093.2,333.8 1131.1,296.0 1142.8,290.7 1188.6,262.0 1202.9,254.7 1238.7,237.2 1257.0,403.1"/>
<polygon points="236.0,1046.7 251.3,1062.0 236.0,1077.3 220.7,1062.0" fill="#B177DE"/>
<polygon points="244.2,1040.1 259.5,1055.4 244.2,1070.7 228.9,1055.4" fill="#B177DE"/>
<polygon points="252.5,1033.5 267.8,1048.8 252.5,1064.1 237.2,1048.8" fill="#B177DE"/>
<polygon points="260.7,1026.9 276.0,1042.2 260.7,1057.5 245.4,1042.2" fill="#B177DE"/>
<polygon points="269.0,1020.4 284.3,1035.7 269.0,1051.0 253.7,1035.7" fill="#B177DE"/>
<polygon points="277.2,1013.8 292.5,1029.1 277.2,1044.4 261.9,1029.1" fill="#B177DE"/>
<polygon points="285.5,1007.2 300.8,1022.5 285.5,1037.8 270.2,1022.5" fill="#B177DE"/>
<polygon points="293.7,1000.6 309.0,1015.9 293.7,1031.2 278.4,1015.9" fill="#B177DE"/>
<polygon points="310.0,987.6 325.3,1002.9 310.0,1018.2 294.7,1002.9" fill="#B177DE"/>
<polygon points="328.0,966.3 343.3,981.6 328.0,996.9 312.7,981.6" fill="#B177DE"/>
<polygon points="345.9,955.7 361.2,971.0 345.9,986.3 330.6,971.0" fill="#B177DE"/>
<polygon points="377.0,933.2 392.3,948.5 377.0,963.8 361.7,948.5" fill="#B177DE"/>
<polygon points="407.2,922.6 422.5,937.9 407.2,953.2 391.9,937.9" fill="#B177DE"/>
<polygon points="443.9,892.9 459.2,908.2 443.9,923.5 428.6,908.2" fill="#B177DE"/>
<polygon points="456.5,883.2 471.8,898.5 456.5,913.8 441.2,898.5" fill="#B177DE"/>
<polygon points="518.2,853.8 533.5,869.1 518.2,884.4 502.9,869.1" fill="#B177DE"/>
<polygon points="528.0,846.9 543.3,862.2 528.0,877.5 512.7,862.2" fill="#B177DE"/>
<polygon points="577.0,807.7 592.3,823.0 577.0,838.3 561.7,823.0" fill="#B177DE"/>
<polygon points="590.7,795.0 606.0,810.3 590.7,825.6 575.4,810.3" fill="#B177DE"/>
<polygon points="606.4,773.5 621.7,788.8 606.4,804.1 591.1,788.8" fill="#B177DE"/>
<polygon points="640.6,741.1 655.9,756.4 640.6,771.7 625.3,756.4" fill="#B177DE"/>
<polygon points="653.4,721.5 668.7,736.8 653.4,752.1 638.1,736.8" fill="#B177DE"/>
<polygon points="707.3,686.3 722.6,701.6 707.3,716.9 692.0,701.6" fill="#B177DE"/>
<polygon points="723.9,676.5 739.2,691.8 723.9,707.1 708.6,691.8" fill="#B177DE"/>
<polygon points="750.7,651.6 766.0,666.9 750.7,682.2 735.4,666.9" fill="#B177DE"/>
<polygon points="773.4,624.7 788.7,640.0 773.4,655.3 758.1,640.0" fill="#B177DE"/>
<polygon points="812.3,576.2 827.6,591.5 812.3,606.8 797.0,591.5" fill="#B177DE"/>
<polygon points="857.6,532.5 872.9,547.8 857.6,563.1 842.3,547.8" fill="#B177DE"/>
<polygon points="880.1,517.4 895.4,532.7 880.1,548.0 864.8,532.7" fill="#B177DE"/>
<polygon points="900.1,495.9 915.4,511.2 900.1,526.5 884.8,511.2" fill="#B177DE"/>
<polygon points="936.0,462.8 951.3,478.1 936.0,493.4 920.7,478.1" fill="#B177DE"/>
<polygon points="979.8,421.0 995.1,436.3 979.8,451.6 964.5,436.3" fill="#B177DE"/>
<polygon points="1008.8,382.5 1024.1,397.8 1008.8,413.1 993.5,397.8" fill="#B177DE"/>
<polygon points="1031.8,367.4 1047.1,382.7 1031.8,398.0 1016.5,382.7" fill="#B177DE"/>
<polygon points="1061.8,347.3 1077.1,362.6 1061.8,377.9 1046.5,362.6" fill="#B177DE"/>
<polygon points="1093.2,318.5 1108.5,333.8 1093.2,349.1 1077.9,333.8" fill="#B177DE"/>
<polygon points="1131.1,280.7 1146.4,296.0 1131.1,311.3 1115.8,296.0" fill="#B177DE"/>
<polygon points="1142.8,275.4 1158.1,290.7 1142.8,306.0 1127.5,290.7" fill="#B177DE"/>
<polygon points="1188.6,246.7 1203.9,262.0 1188.6,277.3 1173.3,262.0" fill="#B177DE"/>
<polygon points="1202.9,239.4 1218.2,254.7 1202.9,270.0 1187.6,254.7" fill="#B177DE"/>
<polygon points="1238.7,221.9 1254.0,237.2 1238.7,252.5 1223.4,237.2" fill="#B177DE"/>
<polygon points="1257.0,387.8 1272.3,403.1 1257.0,418.4 1241.7,403.1" fill="#B177DE"/>
</g>
</g>
<rect x="192.4" y="38.5" width="1275.6" height="1028.2" fill="none" stroke="#000" stroke-width="4"/>
<path d="M192.4 1066.7h20M192.4 1002.4h11M192.4 938.2h20M192.4 873.9h11M192.4 809.7h20M192.4 745.4h11M192.4 681.1h20M192.4 616.9h11M192.4 552.6h20M192.4 488.3h11M192.4 424.1h20M192.4 359.8h11M192.4 295.6h20M192.4 231.3h11M192.4 167.0h20M192.4 102.8h11M192.4 38.5h20M192.4 1066.7v-18.5M320.0 1066.7v-10M447.5 1066.7v-18.5M575.1 1066.7v-10M702.6 1066.7v-18.5M830.2 1066.7v-10M957.8 1066.7v-18.5M1085.3 1066.7v-10M1212.9 1066.7v-18.5M1340.4 1066.7v-10M1468.0 1066.7v-18.5" stroke="#000" stroke-width="4" fill="none"/>
<g font-family="'Liberation Serif', 'Times New Roman', serif" fill="#111">
<text x="170.6" y="1078.1" font-size="43.3" text-anchor="end">0</text>
<text x="170.6" y="949.6" font-size="43.3" text-anchor="end">500</text>
<text x="170.6" y="821.1" font-size="43.3" text-anchor="end">1000</text>
<text x="170.6" y="692.5" font-size="43.3" text-anchor="end">1500</text>
<text x="170.6" y="564.0" font-size="43.3" text-anchor="end">2000</text>
<text x="170.6" y="435.5" font-size="43.3" text-anchor="end">2500</text>
<text x="170.6" y="307.0" font-size="43.3" text-anchor="end">3000</text>
<text x="170.6" y="178.4" font-size="43.3" text-anchor="end">3500</text>
<text x="170.6" y="49.9" font-size="43.3" text-anchor="end">4000</text>
<text x="192.4" y="1121.4" font-size="43.3" text-anchor="middle">0</text>
<text x="447.5" y="1121.4" font-size="43.3" text-anchor="middle">1000</text>
<text x="702.6" y="1121.4" font-size="43.3" text-anchor="middle">2000</text>
<text x="957.8" y="1121.4" font-size="43.3" text-anchor="middle">3000</text>
<text x="1212.9" y="1121.4" font-size="43.3" text-anchor="middle">4000</text>
<text x="1468.0" y="1121.4" font-size="43.3" text-anchor="middle">5000</text>
<text transform="translate(60.2,552.8) rotate(-90) scale(1.012,0.95)" font-size="53" text-anchor="middle">Load (kN)</text>
<text x="830.5" y="1212" font-size="53" text-anchor="middle">Strain (×10<tspan font-size="37" dy="-22">−6</tspan><tspan dy="22">)</tspan></text>
<line x1="767.5" y1="748" x2="886.5" y2="748" stroke="#4a4a4a" stroke-opacity="0.62" stroke-width="1.0"/>
<rect x="816.1" y="736.6" width="22.8" height="22.8" fill="#4a4a4a"/>
<text x="900.6" y="766.2" font-size="52.6">FC-P-01</text>
<line x1="767.5" y1="814.2" x2="886.5" y2="814.2" stroke="#F14040" stroke-opacity="0.62" stroke-width="1.0"/>
<circle cx="827.5" cy="814.2" r="12" fill="#F14040"/>
<text x="900.6" y="832.4" font-size="52.6">FC-P-02</text>
<line x1="767.5" y1="880.2" x2="886.5" y2="880.2" stroke="#1A6FDF" stroke-opacity="0.62" stroke-width="1.0"/>
<polygon points="827.5,862.9 841.9,888.9 813.1,888.9" fill="#1A6FDF"/>
<text x="900.6" y="898.4" font-size="52.6">FC-P-03</text>
<line x1="767.5" y1="946" x2="886.5" y2="946" stroke="#37AD6B" stroke-opacity="0.62" stroke-width="1.0"/>
<polygon points="827.5,963.3 841.9,937.3 813.1,937.3" fill="#37AD6B"/>
<text x="900.6" y="964.2" font-size="52.6">FC-P-04</text>
<line x1="767.5" y1="1011.8" x2="886.5" y2="1011.8" stroke="#B177DE" stroke-opacity="0.62" stroke-width="1.0"/>
<polygon points="827.5,996.5 842.8,1011.8 827.5,1027.1 812.2,1011.8" fill="#B177DE"/>
<text x="900.6" y="1030.0" font-size="52.6">FC-P-05</text>
<line x1="1084" y1="748" x2="1203" y2="748" stroke="#CC9900" stroke-opacity="0.62" stroke-width="1.0"/>
<polygon points="1127.7,748.0 1153.7,733.6 1153.7,762.4" fill="#CC9900"/>
<text x="1216.6" y="766.2" font-size="52.6">RC-P-01</text>
<line x1="1084" y1="814.2" x2="1203" y2="814.2" stroke="#00CBCC" stroke-opacity="0.62" stroke-width="1.0"/>
<polygon points="1162.3,814.2 1136.3,799.8 1136.3,828.6" fill="#00CBCC"/>
<text x="1216.6" y="832.4" font-size="52.6">RC-P-02</text>
<line x1="1084" y1="880.2" x2="1203" y2="880.2" stroke="#7D4E4E" stroke-opacity="0.62" stroke-width="1.0"/>
<polygon points="1145.0,866.4 1157.0,873.3 1157.0,887.1 1145.0,894.0 1133.0,887.1 1133.0,873.3" fill="#7D4E4E"/>
<text x="1216.6" y="898.4" font-size="52.6">RC-P-03</text>
<line x1="1084" y1="946" x2="1203" y2="946" stroke="#8E8E00" stroke-opacity="0.62" stroke-width="1.0"/>
<polygon points="1145.0,930.6 1148.7,940.5 1159.3,941.0 1151.0,947.5 1153.8,957.7 1145.0,951.9 1136.2,957.7 1139.0,947.5 1130.7,941.0 1141.3,940.5" fill="#8E8E00"/>
<text x="1216.6" y="964.2" font-size="52.6">RC-C-1</text>
</g>
</g>
</svg>
</body></html>
